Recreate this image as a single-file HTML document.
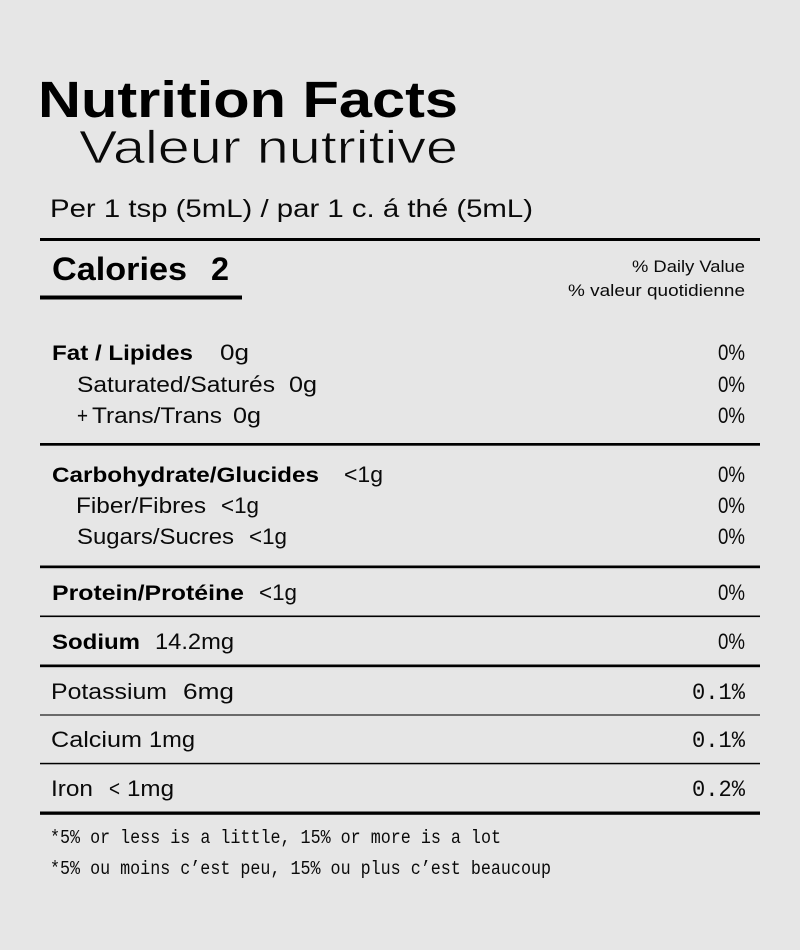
<!DOCTYPE html>
<html>
<head>
<meta charset="utf-8">
<style>
  html, body { margin: 0; padding: 0; background: #e6e6e6; }
  body { width: 800px; height: 950px; overflow: hidden; }
  svg { display: block; }
  .b { font-family: "Liberation Sans", "DejaVu Sans", sans-serif; font-weight: bold; fill: #000; }
  .l { font-family: "Liberation Sans", "DejaVu Sans", sans-serif; font-weight: normal; fill: #0a0a0a; }
  .m { font-family: "Liberation Mono", "DejaVu Sans Mono", monospace; fill: #0a0a0a; }
  .r { font-family: "Liberation Sans", "DejaVu Sans", sans-serif; fill: #0a0a0a; }
</style>
</head>
<body>
<svg width="800" height="950" viewBox="0 0 800 950" xmlns="http://www.w3.org/2000/svg">
  <rect x="0" y="0" width="800" height="950" fill="#e6e6e6"/>

  <!-- Header -->
  <text class="b" x="38" y="117" font-size="51" textLength="420" lengthAdjust="spacingAndGlyphs">Nutrition Facts</text>
  <text class="l" x="79" y="163" font-size="46" style="stroke:#e6e6e6;stroke-width:0.8" textLength="379" lengthAdjust="spacingAndGlyphs">Valeur nutritive</text>
  <text class="l" x="50" y="217" font-size="25" textLength="483" lengthAdjust="spacingAndGlyphs">Per 1 tsp (5mL) / par 1 c. á thé (5mL)</text>

  <rect x="40" y="238" width="720" height="3" fill="#000"/>

  <text class="b" x="52" y="280" font-size="32" textLength="135" lengthAdjust="spacingAndGlyphs">Calories</text>
  <text class="b" x="211" y="280" font-size="32" textLength="18" lengthAdjust="spacingAndGlyphs">2</text>
  <rect x="40" y="295.5" width="202" height="4" fill="#000"/>

  <text class="r" x="745" y="272" font-size="17" text-anchor="end" textLength="113" lengthAdjust="spacingAndGlyphs">% Daily Value</text>
  <text class="r" x="745" y="296" font-size="17" text-anchor="end" textLength="177" lengthAdjust="spacingAndGlyphs">% valeur quotidienne</text>

  <!-- Fat group -->
  <text class="b" x="52" y="360" font-size="21" textLength="141" lengthAdjust="spacingAndGlyphs">Fat / Lipides</text>
  <text class="l" x="220" y="360" font-size="22" textLength="29" lengthAdjust="spacingAndGlyphs">0g</text>
  <text class="l" x="718" y="360" font-size="22" textLength="27" lengthAdjust="spacingAndGlyphs">0%</text>

  <text class="l" x="77" y="392" font-size="22" textLength="198" lengthAdjust="spacingAndGlyphs">Saturated/Saturés</text>
  <text class="l" x="289" y="392" font-size="22" textLength="28" lengthAdjust="spacingAndGlyphs">0g</text>
  <text class="l" x="718" y="392" font-size="22" textLength="27" lengthAdjust="spacingAndGlyphs">0%</text>

  <text class="l" x="77" y="423" font-size="22" textLength="11" lengthAdjust="spacingAndGlyphs">+</text>
  <text class="l" x="92" y="423" font-size="22" textLength="130" lengthAdjust="spacingAndGlyphs">Trans/Trans</text>
  <text class="l" x="233" y="423" font-size="22" textLength="28" lengthAdjust="spacingAndGlyphs">0g</text>
  <text class="l" x="718" y="423" font-size="22" textLength="27" lengthAdjust="spacingAndGlyphs">0%</text>

  <rect x="40" y="443" width="720" height="2.7" fill="#000"/>

  <!-- Carb group -->
  <text class="b" x="52" y="482" font-size="21" textLength="267" lengthAdjust="spacingAndGlyphs">Carbohydrate/Glucides</text>
  <text class="l" x="344" y="482" font-size="22" textLength="39" lengthAdjust="spacingAndGlyphs">&lt;1g</text>
  <text class="l" x="718" y="482" font-size="22" textLength="27" lengthAdjust="spacingAndGlyphs">0%</text>

  <text class="l" x="76" y="513" font-size="22" textLength="130" lengthAdjust="spacingAndGlyphs">Fiber/Fibres</text>
  <text class="l" x="221" y="513" font-size="22" textLength="38" lengthAdjust="spacingAndGlyphs">&lt;1g</text>
  <text class="l" x="718" y="513" font-size="22" textLength="27" lengthAdjust="spacingAndGlyphs">0%</text>

  <text class="l" x="77" y="544" font-size="22" textLength="157" lengthAdjust="spacingAndGlyphs">Sugars/Sucres</text>
  <text class="l" x="249" y="544" font-size="22" textLength="38" lengthAdjust="spacingAndGlyphs">&lt;1g</text>
  <text class="l" x="718" y="544" font-size="22" textLength="27" lengthAdjust="spacingAndGlyphs">0%</text>

  <rect x="40" y="565.5" width="720" height="2.7" fill="#000"/>

  <!-- Protein -->
  <text class="b" x="52" y="600" font-size="21" textLength="192" lengthAdjust="spacingAndGlyphs">Protein/Protéine</text>
  <text class="l" x="259" y="600" font-size="22" textLength="38" lengthAdjust="spacingAndGlyphs">&lt;1g</text>
  <text class="l" x="718" y="600" font-size="22" textLength="27" lengthAdjust="spacingAndGlyphs">0%</text>

  <rect x="40" y="615.5" width="720" height="1.6" fill="#000"/>

  <!-- Sodium -->
  <text class="b" x="52" y="649" font-size="21" textLength="88" lengthAdjust="spacingAndGlyphs">Sodium</text>
  <text class="l" x="155" y="649" font-size="22" textLength="79" lengthAdjust="spacingAndGlyphs">14.2mg</text>
  <text class="l" x="718" y="649" font-size="22" textLength="27" lengthAdjust="spacingAndGlyphs">0%</text>

  <rect x="40" y="664.5" width="720" height="2.7" fill="#000"/>

  <!-- Potassium -->
  <text class="l" x="51" y="699" font-size="22" textLength="116" lengthAdjust="spacingAndGlyphs">Potassium</text>
  <text class="l" x="183" y="699" font-size="22" textLength="51" lengthAdjust="spacingAndGlyphs">6mg</text>
  <text class="m" x="692" y="699" font-size="23" textLength="53" lengthAdjust="spacingAndGlyphs">0.1%</text>

  <rect x="40" y="714" width="720" height="2" fill="#6a6a6a"/>

  <!-- Calcium -->
  <text class="l" x="51" y="747" font-size="22" textLength="91" lengthAdjust="spacingAndGlyphs">Calcium</text>
  <text class="l" x="149" y="747" font-size="22" textLength="46" lengthAdjust="spacingAndGlyphs">1mg</text>
  <text class="m" x="692" y="747" font-size="23" textLength="53" lengthAdjust="spacingAndGlyphs">0.1%</text>

  <rect x="40" y="762.8" width="720" height="1.5" fill="#000"/>

  <!-- Iron -->
  <text class="l" x="51" y="796" font-size="22" textLength="42" lengthAdjust="spacingAndGlyphs">Iron</text>
  <text class="l" x="109" y="796" font-size="22" textLength="11" lengthAdjust="spacingAndGlyphs">&lt;</text>
  <text class="l" x="127" y="796" font-size="22" textLength="47" lengthAdjust="spacingAndGlyphs">1mg</text>
  <text class="m" x="692" y="796" font-size="23" textLength="53" lengthAdjust="spacingAndGlyphs">0.2%</text>

  <rect x="40" y="811.5" width="720" height="3.3" fill="#000"/>

  <!-- Footnotes -->
  <text class="m" x="50" y="843" font-size="19" textLength="451" lengthAdjust="spacingAndGlyphs">*5% or less is a little, 15% or more is a lot</text>
  <text class="m" x="50" y="874" font-size="19" textLength="501" lengthAdjust="spacingAndGlyphs">*5% ou moins c’est peu, 15% ou plus c’est beaucoup</text>
</svg>
</body>
</html>
